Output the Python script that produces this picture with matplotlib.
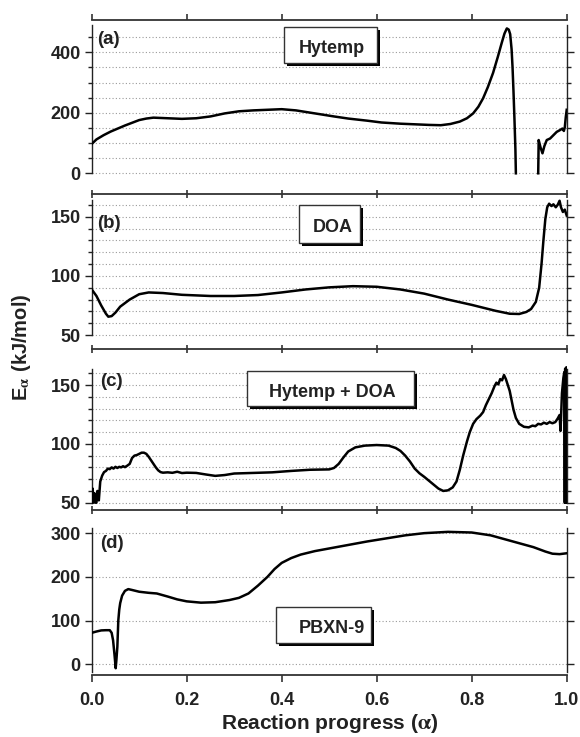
import numpy as np
import matplotlib
matplotlib.use("Agg")
import matplotlib.pyplot as plt
from matplotlib.patches import Rectangle
from matplotlib.ticker import MultipleLocator, FixedLocator

plt.rcParams['font.family'] = ['Liberation Sans', 'DejaVu Sans']
plt.rcParams['font.weight'] = 'bold'
plt.rcParams['mathtext.fontset'] = 'stix'

INK = '#222222'

# ---- data: activation energy vs. reaction progress ----
hytemp_x = [0.0, 0.01, 0.025, 0.04, 0.055, 0.07, 0.085, 0.1, 0.115, 0.13, 0.16, 0.19,
            0.22, 0.25, 0.28, 0.31, 0.34, 0.37, 0.40, 0.43, 0.47, 0.51, 0.54, 0.58,
            0.61, 0.65, 0.68, 0.71, 0.735, 0.755, 0.775, 0.79, 0.803, 0.814, 0.824,
            0.834, 0.845, 0.855, 0.863, 0.869, 0.874, 0.878, 0.881, 0.884, 0.886,
            0.888, 0.890, 0.892, 0.893]
hytemp_y = [97, 112, 126, 138, 148, 158, 167, 176, 181, 184, 182, 180,
            182, 188, 198, 205, 208, 210, 212, 208, 198, 188, 181, 174,
            168, 164, 162, 160, 159, 163, 171, 182, 198, 220, 248,
            285, 332, 385, 430, 462, 479, 475, 460, 410, 350,
            270, 180, 80, 0]
hytemp_tail_x = [0.940, 0.941, 0.945, 0.949, 0.953, 0.958, 0.965, 0.972, 0.979, 0.986,
                 0.991, 0.994, 0.996, 0.998, 1.0]
hytemp_tail_y = [0, 110, 85, 66, 90, 110, 115, 126, 137, 143,
                 148, 140, 152, 185, 210]

doa_x = [0.0, 0.01, 0.02, 0.03, 0.035, 0.042, 0.05, 0.06, 0.08, 0.10, 0.12, 0.15, 0.19,
         0.25, 0.30, 0.35, 0.40, 0.45, 0.50, 0.55, 0.60, 0.65, 0.70, 0.75, 0.80, 0.85,
         0.88, 0.90, 0.915, 0.925, 0.935, 0.942, 0.947, 0.951, 0.955, 0.959, 0.963,
         0.968, 0.972, 0.977, 0.981, 0.985, 0.988, 0.992, 0.996, 1.0]
doa_y = [88.6, 83, 75, 68, 65.5, 66, 69, 74, 80, 84.5, 86, 85.5, 84,
         83, 83, 83.8, 86, 88.5, 90.3, 91.3, 90.8, 88.5, 85, 80, 75.5, 70.5,
         68, 67.8, 69.5, 72, 78, 90, 110, 130, 148, 158, 161,
         159, 160.5, 158, 160, 163.5, 158, 154, 156, 151]

mix_x = [0.0, 0.002, 0.004, 0.006, 0.008, 0.010, 0.012, 0.015, 0.018, 0.022, 0.026, 0.030,
         0.034, 0.038, 0.042, 0.046, 0.050, 0.054, 0.058, 0.062, 0.066, 0.070, 0.075,
         0.080, 0.085, 0.090, 0.095, 0.100, 0.105, 0.110, 0.115, 0.120, 0.125, 0.130,
         0.135, 0.140, 0.145, 0.150, 0.160, 0.170, 0.180, 0.190, 0.200, 0.220, 0.240,
         0.260, 0.280, 0.300, 0.340, 0.380, 0.420, 0.460, 0.500, 0.510, 0.520, 0.530,
         0.540, 0.555, 0.575, 0.600, 0.625, 0.640, 0.650, 0.660, 0.670, 0.680, 0.690,
         0.700, 0.715, 0.730, 0.740, 0.750, 0.760, 0.768, 0.775, 0.782, 0.790, 0.796,
         0.803, 0.810, 0.818, 0.824, 0.830, 0.836, 0.842, 0.848, 0.852, 0.856, 0.860,
         0.864, 0.868, 0.872, 0.876, 0.880, 0.884, 0.888, 0.893, 0.900, 0.910, 0.920,
         0.928, 0.934, 0.940, 0.946, 0.952, 0.958, 0.964, 0.970, 0.976, 0.981, 0.985,
         0.987, 0.990, 0.993, 0.995, 0.996, 0.9968, 0.9976, 0.9984, 0.9992, 1.0]
mix_y = [50, 62, 50, 58, 50, 50, 60, 52, 68, 73, 76, 77,
         79, 78.5, 80, 79, 80.5, 79.5, 80.5, 80, 81, 80.2, 81.5,
         83, 88, 90, 90.5, 91.5, 92.5, 92.5, 91.5, 89, 86, 83,
         80, 77.5, 76, 75.5, 75.8, 75.4, 76.3, 75.2, 75.5, 75.3, 74,
         72.8, 73.5, 74.8, 75.3, 75.8, 77, 78, 78.3, 79.5, 83, 88.5,
         93.5, 97, 98.5, 99, 98.5, 96.5, 94, 90, 85, 79, 75,
         72, 67, 62, 60, 60.5, 63, 68, 78, 90, 102, 110,
         117, 121, 124, 127, 133, 138, 143, 149, 152, 150.5, 155,
         154, 158.5, 155, 150, 145, 137, 129, 122, 117, 114.5, 114,
         115.5, 115, 117, 116.5, 118, 117, 118.5, 117.5, 118.5, 121.5, 124.5,
         111, 143, 156, 161, 50, 164, 50, 162, 50, 165]

pbxn_x = [0.0, 0.01, 0.02, 0.03, 0.038, 0.042, 0.045, 0.048, 0.0505, 0.052, 0.054, 0.056,
          0.058, 0.060, 0.064, 0.070, 0.077, 0.085, 0.100, 0.12, 0.137, 0.16, 0.18, 0.20,
          0.23, 0.26, 0.29, 0.31, 0.33, 0.35, 0.37, 0.385, 0.40, 0.42, 0.44, 0.47, 0.50,
          0.54, 0.58, 0.62, 0.66, 0.70, 0.75, 0.80, 0.84, 0.87, 0.90, 0.93, 0.955, 0.97,
          0.985, 1.0]
pbxn_y = [72, 75, 77.5, 78, 78, 72, 55, 22, -9, 10, 40, 100,
          125, 140, 157, 168, 172, 170, 166, 163.5, 162, 155, 148.5, 144,
          141, 142, 147, 152, 162, 180, 200, 218, 232, 243, 251, 259, 265,
          273, 281, 288, 295, 300, 303, 301.5, 295, 286, 277, 268, 258, 253,
          252, 254]

panel_tags = ['(a)', '(b)', '(c)', '(d)']
sample_names = ['Hytemp', 'DOA', 'Hytemp + DOA', 'PBXN-9']
x_ticks = [0.0, 0.2, 0.4, 0.6, 0.8, 1.0]
x_tick_labels = ['0.0', '0.2', '0.4', '0.6', '0.8', '1.0']

W, H = 580, 737
fig = plt.figure(figsize=(W / 100, H / 100), dpi=100)


def fx(px):
    return px / W


def fy(py):
    return 1 - py / H


# panel frames (top, bottom in pixels), y-limits, spine range, tick steps
left_px, right_px = 91.7, 566.7
panels = [
    dict(top=20, bot=194, ylim=(-68.4, 506.8), bounds=(0, 490), major=200, minor=50),
    dict(top=194, bot=349, ylim=(38.2, 169.2), bounds=(50, 164), major=50, minor=10),
    dict(top=349, bot=510, ylim=(43.8, 180.6), bounds=(50, 164), major=50, minor=10),
    dict(top=510, bot=675, ylim=(-24.5, 353), bounds=(-18, 312), major=100, minor=None),
]

axes = []
for i, p in enumerate(panels):
    ax = fig.add_axes([fx(left_px), fy(p['bot']), fx(right_px - left_px),
                       (p['bot'] - p['top']) / H])
    ax.set_xlim(0, 1)
    ax.set_ylim(*p['ylim'])
    lo, hi = p['bounds']
    ax.patch.set_visible(False)
    for s in ('left', 'right'):
        ax.spines[s].set_bounds(lo, hi)
        ax.spines[s].set_linewidth(1.0)
        ax.spines[s].set_color(INK)
    ax.spines['bottom'].set_linewidth(1.3)
    ax.spines['bottom'].set_color('#333333')
    ax.spines['top'].set_visible(i == 0)
    ax.spines['top'].set_linewidth(1.3)
    ax.spines['top'].set_color('#333333')

    start = 0 if lo <= 0 else lo
    majors = np.arange(start, hi + 1e-6, p['major'])
    ax.yaxis.set_major_locator(FixedLocator(majors))
    ax.set_yticklabels([f'{int(v)}' for v in majors])
    if p['minor']:
        ax.yaxis.set_minor_locator(MultipleLocator(p['minor']))
    ax.yaxis.set_ticks_position('both')
    ax.tick_params(axis='y', which='major', direction='out', length=4.8, width=1.0,
                   color=INK, labelsize=13, labelcolor=INK, pad=3, labelleft=True,
                   labelright=False)
    ax.tick_params(axis='y', which='minor', direction='out', length=2.9, width=1.0,
                   color=INK)
    ax.grid(True, axis='y', which='both', linestyle=(0, (1, 2)), color='#9a9a9a',
            linewidth=0.8)

    ax.set_xticks(x_ticks)
    if i == 3:
        ax.set_xticklabels(x_tick_labels)
        ax.tick_params(axis='x', direction='out', length=5, width=1.2, color='#333333',
                       labelsize=13, labelcolor=INK, pad=7, top=False)
    else:
        ax.tick_params(axis='x', direction='inout', length=6, width=1.2,
                       color='#333333', labelbottom=False, top=False)
    axes.append(ax)

# outward ticks along the top edge of the first panel
top_axis = axes[0].secondary_xaxis('top')
top_axis.set_xticks(x_ticks)
top_axis.tick_params(axis='x', direction='out', length=4.5, width=1.2, color='#333333',
                     labeltop=False)
top_axis.spines['top'].set_visible(False)

# minor ticks and grid only within each spine's range
for ax, p in zip(axes, panels):
    lo, hi = p['bounds']
    ax.set_yticks([t for t in ax.get_yticks(minor=True) if lo <= t <= hi], minor=True)

curve_kw = dict(color='black', linewidth=1.8, solid_joinstyle='round', zorder=3)
axes[0].plot(hytemp_x, hytemp_y, **curve_kw)
axes[0].plot(hytemp_tail_x, hytemp_tail_y, **curve_kw)
axes[1].plot(doa_x, doa_y, **curve_kw)
axes[2].plot(mix_x, mix_y, **curve_kw)
axes[3].plot(pbxn_x, pbxn_y, **curve_kw)

# panel tags
tag_pos = [(96.7, 40), (97.3, 224), (100, 381), (100, 544)]
for tag, (tx, ty) in zip(panel_tags, tag_pos):
    fig.text(fx(tx), fy(ty), tag, fontsize=13.5, fontweight='bold', color=INK,
             ha='left', va='center')

# sample name boxes with drop shadow
boxes = [
    (284, 376.7, 26.7, 62.7, 332, 53.3),
    (299.3, 360, 205, 242.7, 332.5, 231.7),
    (246.7, 414.3, 371, 406, 332, 397.3),
    (276, 370.7, 606.7, 643.3, 331.7, 633.3),
]
for name, (x0, x1, y0, y1, tx, tb) in zip(sample_names, boxes):
    shadow = Rectangle((fx(x0 + 3), fy(y1 + 3)), fx(x1 - x0), (y1 - y0) / H,
                       transform=fig.transFigure, facecolor='black', edgecolor='none',
                       zorder=5)
    box = Rectangle((fx(x0), fy(y1)), fx(x1 - x0), (y1 - y0) / H,
                    transform=fig.transFigure, facecolor='white', edgecolor='#333333',
                    linewidth=1.0, zorder=6)
    fig.add_artist(shadow)
    fig.add_artist(box)
    fig.text(fx(tx), fy(tb), name, fontsize=13, fontweight='bold', color=INK,
             ha='center', va='baseline', zorder=7)

fig.text(fx(329.5), fy(729), r'Reaction progress ($\mathrm{\alpha}$)', fontsize=15,
         fontweight='bold', color=INK, ha='center', va='baseline')
fig.text(fx(21.7), fy(347), r'E$_{\mathrm{\alpha}}$ (kJ/mol)', fontsize=14.5,
         fontweight='bold', color=INK, ha='center', va='center', rotation=90)

fig.savefig('out.png', dpi=100)
